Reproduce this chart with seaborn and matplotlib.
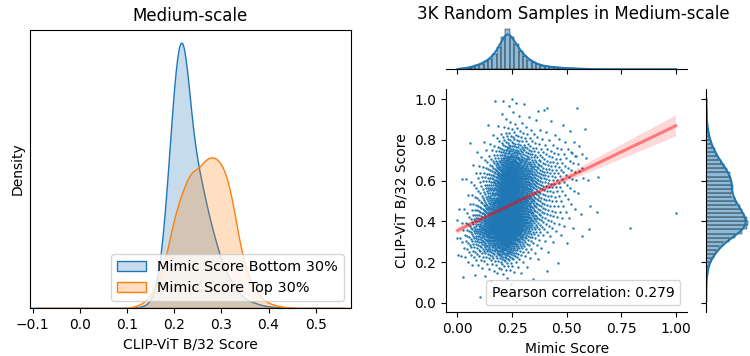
import numpy as np
import matplotlib
matplotlib.use('Agg')
import matplotlib.pyplot as plt
from matplotlib.lines import Line2D
import seaborn as sns

# ---- left panel: density curves (relative heights) ----
clip_grid = [0.11, 0.12, 0.13, 0.14, 0.15, 0.16, 0.17, 0.18, 0.19, 0.20,
             0.21, 0.22, 0.23, 0.24, 0.25, 0.26, 0.27, 0.28, 0.29, 0.30,
             0.31, 0.32, 0.33, 0.34, 0.35, 0.36, 0.37, 0.38, 0.39, 0.40,
             0.41, 0.42, 0.43, 0.44]
bottom30 = [0.0, 0.002, 0.005, 0.01, 0.025, 0.07, 0.16, 0.33, 0.57, 0.82,
            0.98, 0.98, 0.82, 0.63, 0.52, 0.44, 0.36, 0.29, 0.23, 0.17,
            0.13, 0.10, 0.07, 0.05, 0.035, 0.025, 0.02, 0.013, 0.009, 0.006,
            0.004, 0.003, 0.002, 0.002]
top30 = [0.003, 0.008, 0.015, 0.03, 0.05, 0.08, 0.12, 0.18, 0.27, 0.36,
         0.42, 0.47, 0.52, 0.55, 0.535, 0.575, 0.59, 0.598, 0.59, 0.57,
         0.53, 0.46, 0.35, 0.24, 0.16, 0.11, 0.075, 0.05, 0.03, 0.02,
         0.013, 0.008, 0.005, 0.003]
# stray samples far out in the tails
bottom30_tails = [-0.05, 0.50]
top30_tails = [-0.03, 0.52]

# ---- right panel: marginal histogram counts, bins of 0.02 over [0, 1] ----
mimic_counts = [4, 9, 18, 31, 45, 62, 89, 120, 170, 245,
                357, 446, 357, 277, 201, 147, 107, 76, 54, 40,
                31, 27, 22, 18, 13, 11, 9, 7, 3, 3,
                0, 0, 0, 0, 0, 0, 0, 0, 0, 0,
                0, 0, 0, 0, 0, 0, 0, 0, 0, 0]
clip_counts = [1, 1, 1, 1, 1, 2, 4, 6, 8, 12,
               20, 33, 45, 57, 74, 98, 123, 156, 172, 180,
               176, 164, 152, 143, 131, 123, 106, 111, 115, 111,
               106, 102, 90, 78, 66, 53, 41, 37, 25, 20,
               14, 12, 8, 6, 4, 3, 2, 2, 2, 1]
# isolated points visible in the scatter
outlier_mimic = [1.0, 0.79, 0.645, 0.569, 0.607, 0.637, 0.60, 0.57, 0.54, 0.52,
                 0.41, 0.37, 0.21, 0.25, 0.27, 0.0, 0.0, 0.02, 0.41, 0.21, 0.29]
outlier_clip = [0.44, 0.369, 0.62, 0.66, 0.473, 0.448, 0.36, 0.327, 0.72, 0.74,
                0.955, 0.94, 0.99, 1.0, 0.98, 0.32, 0.406, 0.61, 0.155, 0.054, 0.02]
pearson_r = 0.279

edges = np.linspace(0, 1, 51)


def spread(counts):
    # place each bin's samples evenly inside the bin
    pts = []
    for c, lo, hi in zip(counts, edges[:-1], edges[1:]):
        pts.extend(lo + (np.arange(c) + 0.5) / c * (hi - lo))
    return np.array(pts)


def logit(p):
    return np.log(p / (1 - p))


mimic = spread(mimic_counts)
clip = spread(clip_counts)
# pair the two sorted marginals with a mild rank association
n = len(mimic)
idx = np.arange(n)
u = (idx + 0.5) / n
q = ((idx + 0.5) * 0.6180339887) % 1
mix = 0.25 * logit(u) + 0.75 * logit(np.clip(q, 1e-4, 1 - 1e-4))
clip = clip[np.argsort(np.argsort(mix))]
mimic = np.concatenate([mimic, outlier_mimic])
clip = np.concatenate([clip, outlier_clip])

fig = plt.figure(figsize=(7.5, 3.56), dpi=100)

##LEFT: KDE OF CLIP SCORE
ax1 = fig.add_axes([0.04, 0.1348, 0.428, 0.7823])
sns.kdeplot(x=clip_grid + bottom30_tails, weights=bottom30 + [0.0003, 0.0003],
            bw_method=0.17, fill=True, color='C0', label='Mimic Score Bottom 30%', ax=ax1)
sns.kdeplot(x=clip_grid + top30_tails, weights=top30 + [0.0003, 0.0003],
            bw_method=0.17, fill=True, color='C1', label='Mimic Score Top 30%', ax=ax1)
ax1.set_xlim(-0.106, 0.575)
ax1.set_yticks([])
ax1.set_ylabel('Density')
ax1.set_xlabel('CLIP-ViT B/32 Score')
ax1.set_title('Medium-scale')
ax1.legend(loc='lower right', prop={'size': 10.4})

##RIGHT: JOINT PLOT
axj = fig.add_axes([0.5947, 0.1228, 0.3217, 0.6272])
axt = fig.add_axes([0.5947, 0.8053, 0.3217, 0.118], sharex=axj)
axr = fig.add_axes([0.9413, 0.1228, 0.0587, 0.6272], sharey=axj)

sns.regplot(x=mimic, y=clip, ax=axj, color='C0', seed=0,
            scatter_kws={'s': 3, 'alpha': 1, 'linewidths': 0},
            line_kws={'color': 'red', 'alpha': 0.45, 'lw': 2.2})
# band in the same red
for coll in axj.collections[1:]:
    coll.set_facecolor('red')
    coll.set_alpha(0.15)
axj.legend([Line2D([], [], linestyle='none')], [f'Pearson correlation: {pearson_r}'],
           loc='lower right', handlelength=0, handletextpad=0)
axj.set_xlabel('Mimic Score')
axj.set_ylabel('CLIP-ViT B/32 Score')
axj.spines[['top', 'right']].set_visible(False)

sns.histplot(x=mimic, bins=edges, kde=True, color='C0', ax=axt)
axt.set(xlabel='', ylabel='')
axt.tick_params(axis='x', labelbottom=False)
axt.tick_params(axis='y', left=False, labelleft=False)
axt.spines[['top', 'right', 'left']].set_visible(False)

sns.histplot(y=clip, bins=edges, kde=True, color='C0', ax=axr)
axr.set(xlabel='', ylabel='')
axr.tick_params(axis='y', labelleft=False)
axr.tick_params(axis='x', bottom=False, labelbottom=False)
axr.spines[['top', 'right', 'bottom']].set_visible(False)

axj.set_xlim(-0.052, 1.052)
axj.set_ylim(-0.047, 1.05)

fig.text(0.765, 0.96, '3K Random Samples in Medium-scale', ha='center', va='center', fontsize=12)

fig.savefig('out.png', dpi=100)
